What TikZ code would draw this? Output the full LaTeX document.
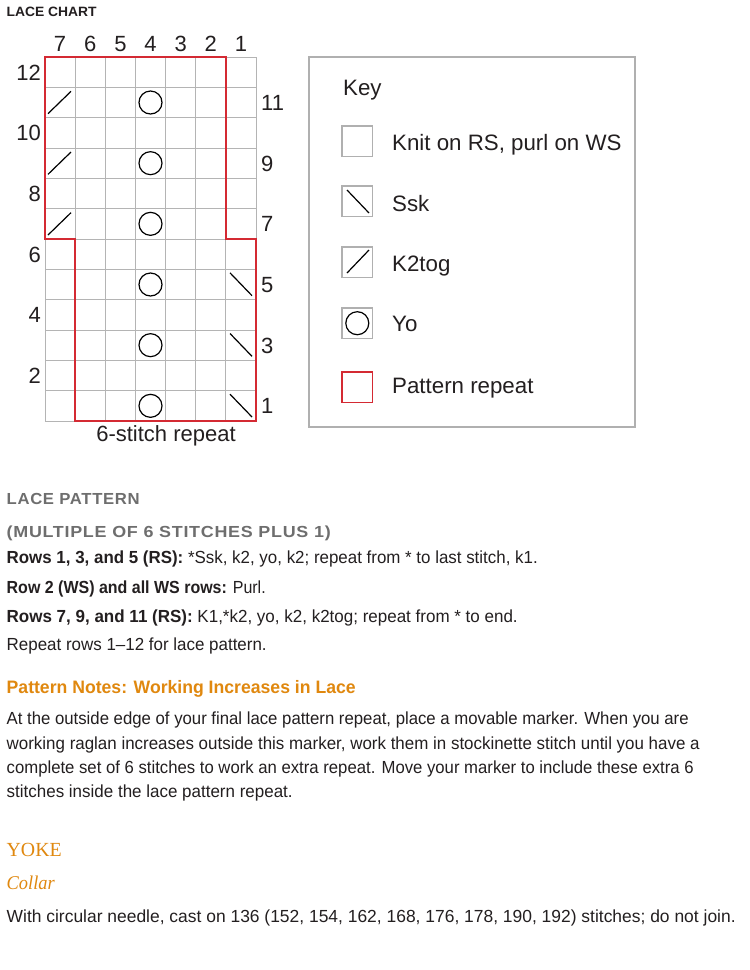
\documentclass[tikz,border=0pt]{standalone}
\usepackage{fontspec}
\usepackage{graphicx}
\setmainfont{Liberation Sans}
\newfontfamily\yokefont{Liberation Serif}
\newfontfamily\spacedbold[LetterSpace=4]{Liberation Sans Bold}
\definecolor{gridgray}{HTML}{B4B4B4}
\definecolor{repred}{HTML}{D42A33}
\definecolor{keygray}{HTML}{B0B0B0}
\definecolor{textblack}{HTML}{231F20}
\definecolor{headgray}{HTML}{6E6E6E}
\definecolor{notesorange}{HTML}{E0880F}
\newcommand{\fitline}[2]{\resizebox{#1}{\height}{#2}}
\begin{document}
\begin{tikzpicture}[x=1pt,y=-1pt,
  gridline/.style={draw=gridgray, line width=0.9pt},
  repeatline/.style={draw=repred, line width=1.6pt},
  sym/.style={draw=black, line width=1.2pt},
  keysq/.style={draw=keygray, line width=1.1pt},
  chartlbl/.style={inner sep=0pt, text=textblack, font=\fontsize{22}{26}\selectfont},
  keytxt/.style={anchor=base west, inner sep=0pt, text=textblack, font=\fontsize{22.3}{26}\selectfont},
  body/.style={anchor=base west, inner sep=0pt, text=textblack, font=\fontsize{17.5}{20}\selectfont},
  grayhead/.style={anchor=base west, inner sep=0pt, text=headgray, font=\fontsize{16}{19}\spacedbold},
  orangehead/.style={anchor=base west, inner sep=0pt, text=notesorange}]
\useasboundingbox[fill=white] (0,0) rectangle (750,970);

% ---------- title ----------
\node[anchor=base west, inner sep=0pt, text=textblack, font=\fontsize{13.5}{16}\bfseries] (title) at (6.5,16.5) {\fitline{90pt}{LACE CHART}};

% ---------- chart grid ----------
\foreach \i in {0,...,7} \draw[gridline] ({45+\i*30.15},57) -- ({45+\i*30.15},421);
\foreach \j in {0,...,12} \draw[gridline] (45,{57+\j*30.333}) -- (256.05,{57+\j*30.333});

% pattern repeat outline
\draw[repeatline, line join=miter] (45,57) -- (225.9,57) -- (225.9,239) -- (256.05,239) -- (256.05,421) -- (75.15,421) -- (75.15,239) -- (45,239) -- cycle;

% k2tog symbols (column 7, rows 7, 9, 11)
\foreach \r in {7,9,11} {
  \draw[sym] (48,{421-(\r-1)*30.333-4}) -- (71,{421-\r*30.333+4});
}
% ssk symbols (column 1, rows 1, 3, 5)
\foreach \r in {1,3,5} {
  \draw[sym] (230,{421-\r*30.333+3.5}) -- (252,{421-(\r-1)*30.333-4});
}
% yo symbols (column 4, odd rows)
\foreach \r in {1,3,5,7,9,11} {
  \draw[sym] (150.5,{421-(\r-0.5)*30.333}) circle[radius=11.5];
}

% column numbers
\foreach \c in {1,...,7} {
  \node[chartlbl, anchor=base] (col\c) at ({256.05-(\c-0.5)*30.15},51) {\c};
}
% even row numbers on the left
\foreach \r in {2,4,6,8,10,12} {
  \node[chartlbl, anchor=base east] (rowl\r) at (41,{421-(\r-0.5)*30.333+8}) {\r};
}
% odd row numbers on the right
\foreach \r in {1,3,5,7,9,11} {
  \node[chartlbl, anchor=base west] (rowr\r) at (261,{421-(\r-0.5)*30.333+8}) {\r};
}
\node[chartlbl, anchor=base] (repeatlbl) at (166,441) {6-stitch repeat};

% ---------- key ----------
\draw[draw=keygray, line width=1.1pt] (309,57) rectangle (635,427);
\node[keytxt] (keyttl) at (343,95) {Key};

\draw[keysq] (342,126) rectangle (372.5,156.5);
\node[keytxt] (kknit) at (392,150.5) {Knit on RS, purl on WS};

\draw[keysq] (342,186) rectangle (372.5,216.5);
\draw[sym] (347,190) -- (369,213);
\node[keytxt] (kssk) at (392,211.5) {Ssk};

\draw[keysq] (342,247) rectangle (372.5,277.5);
\draw[sym] (347,273) -- (369,250);
\node[keytxt] (kk2tog) at (392,271.5) {K2tog};

\draw[keysq] (342,308) rectangle (372.5,338.5);
\draw[sym] (357.3,323.2) circle[radius=11.5];
\node[keytxt] (kyo) at (392,331.5) {Yo};

\draw[repeatline] (342,372) rectangle (372.5,402.5);
\node[keytxt] (krep) at (392,393) {Pattern repeat};

% ---------- lace pattern text ----------
\node[grayhead] (lph) at (6.5,504) {\fitline{133pt}{LACE PATTERN}};
\node[grayhead] (mult) at (6.5,537) {\fitline{324pt}{(MULTIPLE OF 6 STITCHES PLUS 1)}};
\node[body] (la) at (6.5,563) {\fitline{531pt}{\textbf{Rows 1, 3, and 5 (RS):} *Ssk, k2, yo, k2; repeat from * to last stitch, k1.}};
\node[body] (lb) at (6.5,593) {\fitline{259pt}{\textbf{Row 2 (WS) and all WS rows:} Purl.}};
\node[body] (lc) at (6.5,622) {\fitline{511pt}{\textbf{Rows 7, 9, and 11 (RS):} K1,*k2, yo, k2, k2tog; repeat from * to end.}};
\node[body] (ld) at (6.5,650) {\fitline{260pt}{Repeat rows 1–12 for lace pattern.}};

% ---------- pattern notes ----------
\node[orangehead, font=\fontsize{18}{21}\bfseries] (pnh) at (6.5,693) {\fitline{349pt}{Pattern Notes: Working Increases in Lace}};
\node[body] (pa) at (6.5,724) {\fitline{682pt}{At the outside edge of your final lace pattern repeat, place a movable marker. When you are}};
\node[body] (pb) at (6.5,749) {\fitline{693pt}{working raglan increases outside this marker, work them in stockinette stitch until you have a}};
\node[body] (pc) at (6.5,773) {\fitline{687pt}{complete set of 6 stitches to work an extra repeat. Move your marker to include these extra 6}};
\node[body] (pd) at (6.5,797.5) {\fitline{286pt}{stitches inside the lace pattern repeat.}};

% ---------- yoke ----------
\node[orangehead, font=\fontsize{20}{24}\yokefont] (yoke) at (6.5,856) {\fitline{55pt}{YOKE}};
\node[orangehead, font=\fontsize{19.5}{24}\yokefont\itshape] (collar) at (6.5,889) {\fitline{48pt}{Collar}};
\node[body] (cast) at (6.5,922) {\fitline{729pt}{With circular needle, cast on 136 (152, 154, 162, 168, 176, 178, 190, 192) stitches; do not join.}};
\end{tikzpicture}
\end{document}
